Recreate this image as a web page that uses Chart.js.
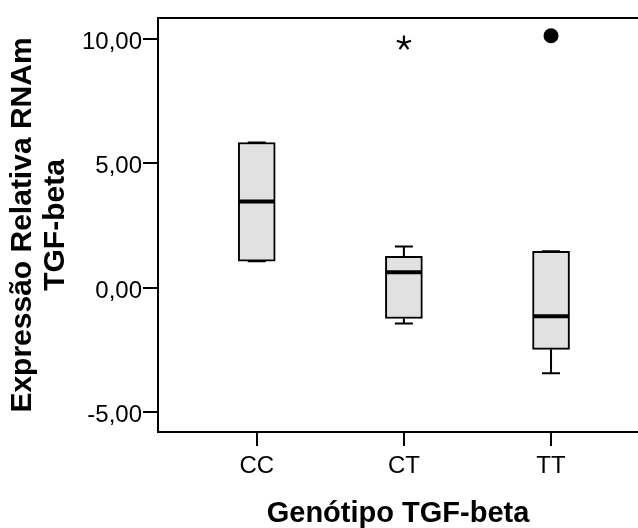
<!DOCTYPE html>
<html>
<head>
<meta charset="utf-8">
<script src="https://cdn.jsdelivr.net/npm/chart.js@4/dist/chart.umd.min.js"></script>
<style>
  body { margin: 0; background: #fff; }
  #wrap { width: 638px; height: 528px; }
</style>
</head>
<body>
<div id="wrap"><canvas id="chart"></canvas></div>
<script>
const genotypes = ["CC", "CT", "TT"];
const whiskerLow = [1.07, -1.43, -3.43];
const q1 = [1.07, -1.23, -2.47];
const medians = [3.47, 0.63, -1.14];
const q3 = [5.84, 1.27, 1.47];
const whiskerHigh = [5.84, 1.66, 1.47];
const extremes = [null, 9.84, null];   // drawn as *
const outliers = [null, null, 10.13];  // drawn as filled circle
const yTicks = [-5, 0, 5, 10];

const font = "'Liberation Sans', Arial, sans-serif";

// little 5-armed asterisk like the SPSS extreme marker
function makeStar() {
  const c = document.createElement("canvas");
  c.width = 18; c.height = 18;
  const g = c.getContext("2d");
  g.strokeStyle = "#000";
  g.lineWidth = 2.2;
  for (let k = 0; k < 5; k++) {
    const a = -Math.PI / 2 + k * 2 * Math.PI / 5;
    g.beginPath();
    g.moveTo(9, 9);
    g.lineTo(9 + 7.5 * Math.cos(a), 9 + 7.5 * Math.sin(a));
    g.stroke();
  }
  return c;
}

const boxExtras = {
  id: "boxExtras",
  afterDatasetsDraw(chart) {
    const ctx = chart.ctx;
    const x = chart.scales.x, y = chart.scales.y;
    const area = chart.chartArea;
    ctx.save();
    ctx.strokeStyle = "#000";
    genotypes.forEach((g, i) => {
      const cx = x.getPixelForValue(i + 1);
      // whiskers
      ctx.lineWidth = 2;
      ctx.beginPath();
      ctx.moveTo(cx, y.getPixelForValue(q3[i]));
      ctx.lineTo(cx, y.getPixelForValue(whiskerHigh[i]));
      ctx.moveTo(cx, y.getPixelForValue(q1[i]));
      ctx.lineTo(cx, y.getPixelForValue(whiskerLow[i]));
      ctx.moveTo(cx - 9, y.getPixelForValue(whiskerHigh[i]));
      ctx.lineTo(cx + 9, y.getPixelForValue(whiskerHigh[i]));
      ctx.moveTo(cx - 9, y.getPixelForValue(whiskerLow[i]));
      ctx.lineTo(cx + 9, y.getPixelForValue(whiskerLow[i]));
      ctx.stroke();
      // median
      ctx.lineWidth = 4;
      ctx.beginPath();
      ctx.moveTo(cx - 18, y.getPixelForValue(medians[i]));
      ctx.lineTo(cx + 18, y.getPixelForValue(medians[i]));
      ctx.stroke();
    });
    // top frame line
    ctx.lineWidth = 2;
    ctx.beginPath();
    ctx.moveTo(area.left, area.top);
    ctx.lineTo(chart.width, area.top);
    ctx.stroke();
    ctx.restore();
  }
};

new Chart(document.getElementById("chart"), {
  type: "bar",
  data: {
    datasets: [
      {
        data: genotypes.map((g, i) => ({ x: i + 1, y: [q1[i], q3[i]] })),
        backgroundColor: "#e1e1e1",
        borderColor: "#000",
        borderWidth: 2,
        borderSkipped: false,
        barThickness: 37
      },
      {
        type: "scatter",
        data: outliers.map((v, i) => ({ x: i + 1, y: v })).filter(p => p.y !== null),
        pointRadius: 7.5,
        backgroundColor: "#000",
        borderWidth: 0
      },
      {
        type: "scatter",
        data: extremes.map((v, i) => ({ x: i + 1, y: v })).filter(p => p.y !== null),
        pointStyle: makeStar(),
        pointRadius: 9
      }
    ]
  },
  options: {
    responsive: true,
    maintainAspectRatio: false,
    animation: false,
    layout: { autoPadding: false, padding: { top: 18, left: 0, right: 0, bottom: 0 } },
    plugins: { legend: { display: false }, tooltip: { enabled: false } },
    scales: {
      x: {
        type: "linear",
        offset: false,
        min: 0.329,
        max: 3.591,
        afterBuildTicks: s => { s.ticks = genotypes.map((g, i) => ({ value: i + 1 })); },
        afterFit: s => { s.height = 96; s.paddingRight = 0; s.paddingLeft = 0; },
        grid: { offset: false, drawOnChartArea: false, drawTicks: true, tickLength: 14, color: "#000", lineWidth: 2 },
        border: { display: true, color: "#000", width: 2 },
        ticks: {
          color: "#000",
          font: { family: font, size: 24 },
          padding: 6,
          maxRotation: 0,
          callback: v => genotypes[v - 1]
        },
        title: {
          display: true,
          text: "Genótipo TGF-beta",
          color: "#000",
          font: { family: font, size: 29, weight: "bold", lineHeight: 1 },
          padding: { top: 0, bottom: 0 }
        }
      },
      y: {
        min: -5.79,
        max: 10.844,
        afterBuildTicks: s => { s.ticks = yTicks.map(v => ({ value: v })); },
        afterFit: s => { s.width = 158; },
        grid: { drawOnChartArea: false, drawTicks: true, tickLength: 15, color: "#000", lineWidth: 2 },
        border: { display: true, color: "#000", width: 2 },
        ticks: {
          color: "#000",
          font: { family: font, size: 24 },
          padding: 1,
          labelOffset: 3,
          callback: v => v.toFixed(2).replace(".", ",")
        },
        title: {
          display: true,
          text: ["Expressão Relativa RNAm", "TGF-beta"],
          color: "#000",
          font: { family: font, size: 30, weight: "bold", lineHeight: 1.08 },
          padding: { top: 7, bottom: 0 }
        }
      }
    }
  },
  plugins: [boxExtras]
});
</script>
</body>
</html>
